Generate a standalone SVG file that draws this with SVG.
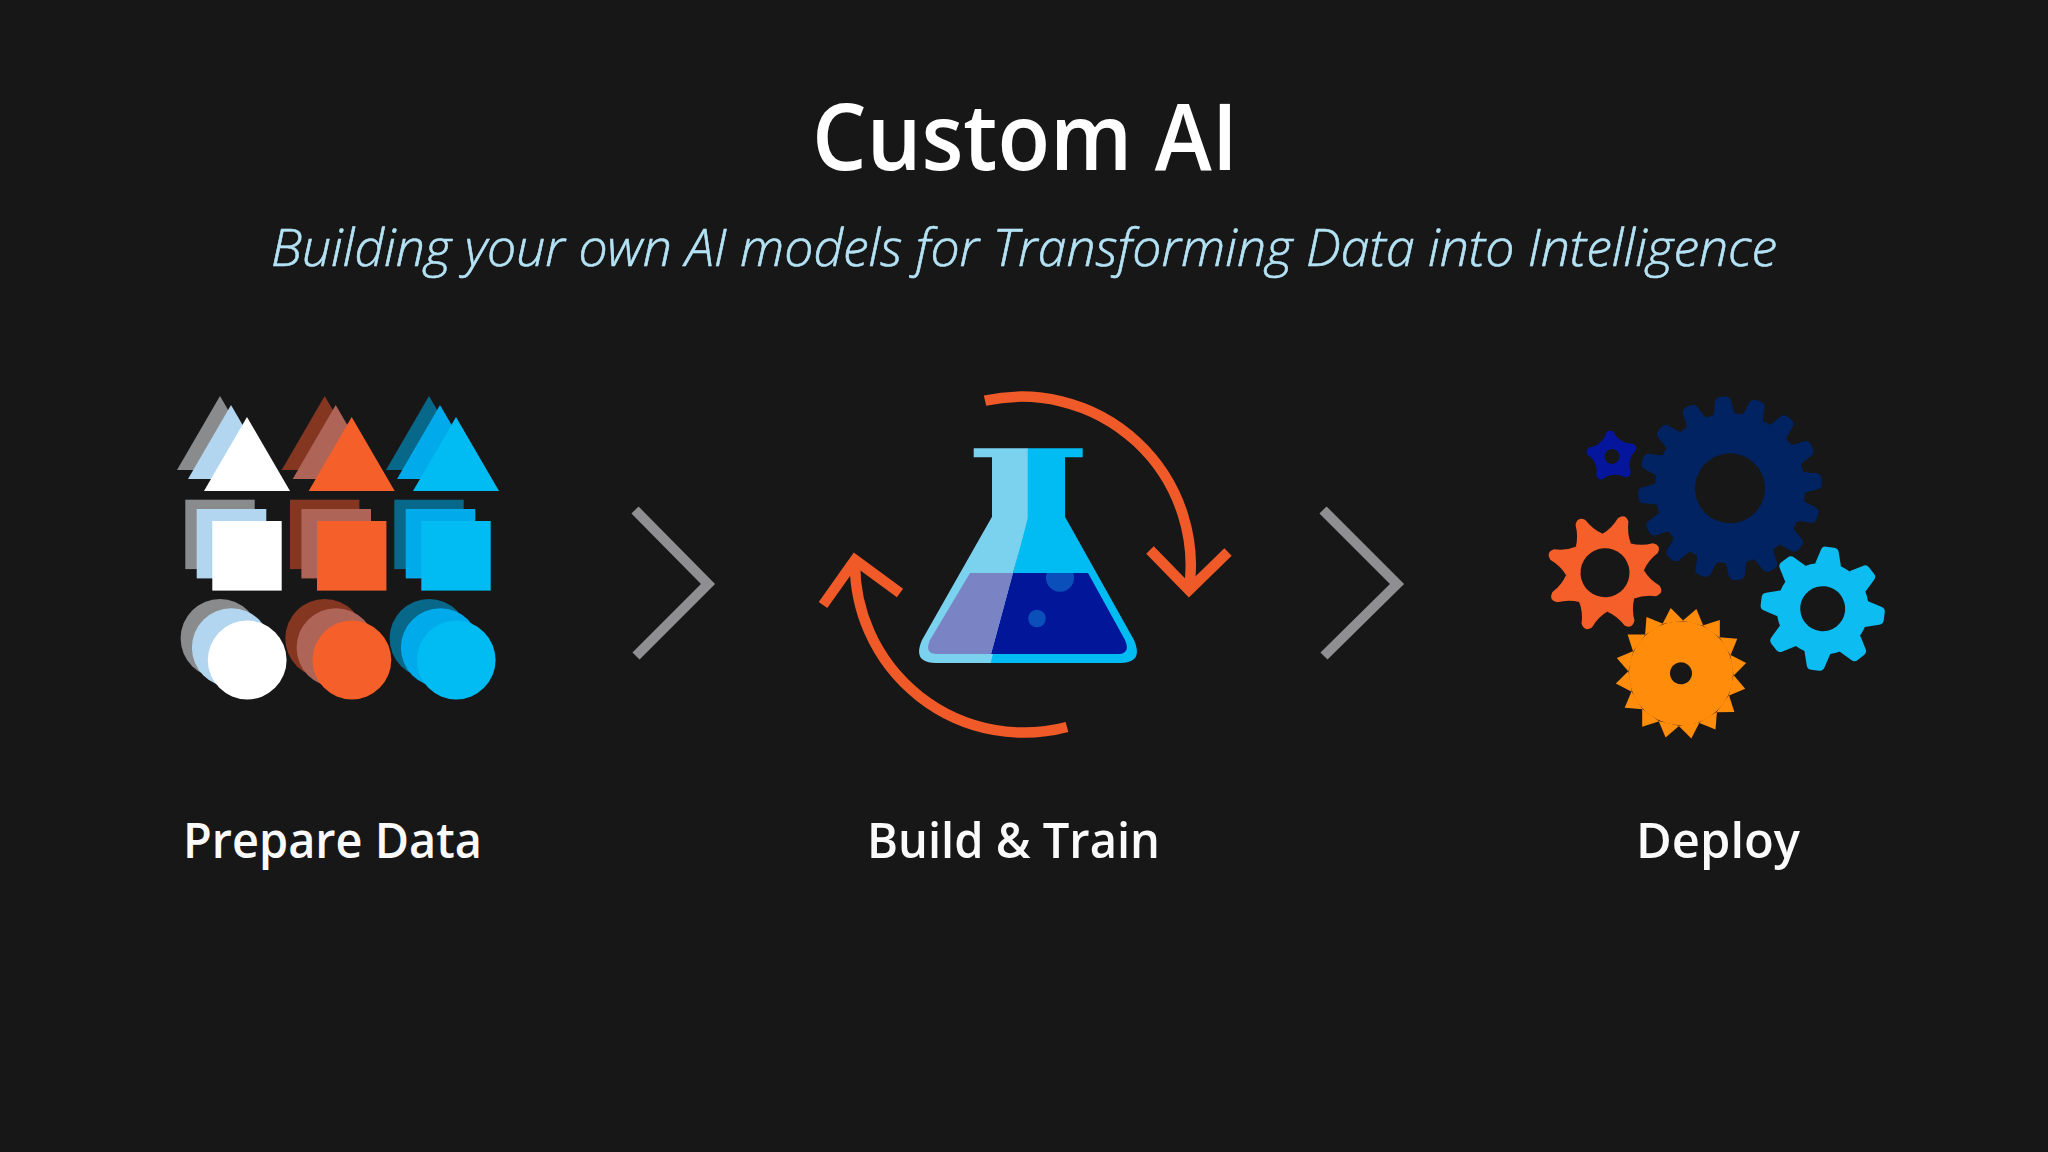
<svg xmlns="http://www.w3.org/2000/svg" width="2048" height="1152" viewBox="0 0 2048 1152">
<style>
.t{font-family:"Open Sans","Noto Sans","Liberation Sans",sans-serif}
.title{font-size:92px;font-weight:600;fill:#fff}
.sub{font-size:51px;font-weight:300;font-style:italic;fill:#b4e3f5;stroke:#b4e3f5;stroke-width:.6}
.lab{font-size:49px;font-weight:600;fill:#fafafa}
.chev{fill:none;stroke:#8f8e90;stroke-width:10}
.cyc{fill:none;stroke:#f05a28;stroke-width:10.5}
.hole{fill:#171718}
</style>
<defs>
<path id="tri" d="M0,0 L43,74 L-43,74Z"/>
<path id="tD" d="M-11.5,-72 Q-9,-78 -8.5,-85 Q-8,-92 -2,-92 L2,-92 Q8,-92 8.5,-85 Q9,-78 11.5,-72Z"/>
<path id="tO" d="M-15,-36 Q-8,-44 -5.5,-56 Q0,-63 5.5,-56 Q8,-44 15,-36Z"/>
<path id="tB" d="M-13,-44 L-9,-58 Q-8,-62 -4,-62 L4,-62 Q8,-62 9,-58 L13,-44Z"/>
<path id="tG" d="M-10.6,-51.5 L0,-66 L10.6,-51.5Z"/>
<path id="tN" d="M-10,-15 Q-5,-20 -4,-24 Q0,-28 4,-24 Q5,-20 10,-15Z"/>
</defs>
<rect width="2048" height="1152" fill="#171718"/>
<g id="heading">
<text class="t title" x="812" y="170" textLength="426" lengthAdjust="spacingAndGlyphs">Custom AI</text>
<text class="t sub" x="271" y="266" textLength="1506" lengthAdjust="spacingAndGlyphs">Building your own AI models for Transforming Data into Intelligence</text>
</g>
<g id="prepare-data">
<g id="col-white">
<use href="#tri" x="220" y="396" fill="#8a8b8d"/><use href="#tri" x="231" y="405" fill="#b3d6f0"/><use href="#tri" x="247" y="417" fill="#fff"/>
<rect x="185.3" y="499.7" width="69.4" height="69.4" fill="#8a8b8d"/><rect x="196.7" y="509" width="69.6" height="69.4" fill="#b3d6f0"/><rect x="212.3" y="521" width="69.4" height="69.6" fill="#fff"/>
<circle cx="220" cy="638.3" r="39.4" fill="#8a8b8d"/><circle cx="231.3" cy="647.7" r="39.4" fill="#b3d6f0"/><circle cx="247.2" cy="660" r="39.4" fill="#fff"/>
</g>
<g id="col-orange" transform="translate(104.7,0)">
<use href="#tri" x="220" y="396" fill="#843621"/><use href="#tri" x="231" y="405" fill="#ae6557"/><use href="#tri" x="247" y="417" fill="#f55f2a"/>
<rect x="185.3" y="499.7" width="69.4" height="69.4" fill="#843621"/><rect x="196.7" y="509" width="69.6" height="69.4" fill="#ae6557"/><rect x="212.3" y="521" width="69.4" height="69.6" fill="#f55f2a"/>
<circle cx="220" cy="638.3" r="39.4" fill="#843621"/><circle cx="231.3" cy="647.7" r="39.4" fill="#ae6557"/><circle cx="247.2" cy="660" r="39.4" fill="#f55f2a"/>
</g>
<g id="col-blue" transform="translate(209,0)">
<use href="#tri" x="220" y="396" fill="#07688a"/><use href="#tri" x="231" y="405" fill="#00aaeb"/><use href="#tri" x="247" y="417" fill="#00bcf2"/>
<rect x="185.3" y="499.7" width="69.4" height="69.4" fill="#07688a"/><rect x="196.7" y="509" width="69.6" height="69.4" fill="#00aaeb"/><rect x="212.3" y="521" width="69.4" height="69.6" fill="#00bcf2"/>
<circle cx="220" cy="638.3" r="39.4" fill="#07688a"/><circle cx="231.3" cy="647.7" r="39.4" fill="#00aaeb"/><circle cx="247.2" cy="660" r="39.4" fill="#00bcf2"/>
</g>
<text class="t lab" x="183" y="858" textLength="299" lengthAdjust="spacingAndGlyphs">Prepare Data</text>
</g>
<g id="connectors">
<path class="chev" d="M635,510 L708,584 L636,656"/>
<path class="chev" d="M1323,510 L1397,584 L1324,656"/>
</g>
<g id="build-train">
<path class="cyc" d="M985,400.7 A169,169 0 0 1 1189,590"/>
<path class="cyc" d="M1150,550 L1189,590 L1228,552"/>
<path class="cyc" d="M1067,727 A169,169 0 0 1 855,560"/>
<path class="cyc" d="M823,605 L855,560 L900,593"/>
<path fill="#00bcf2" d="M1027,448.3 H1082.7 V457.3 H1065 V516.7 L1134,640 Q1144,663 1120,663 H990 L1027,518Z"/>
<path fill="#7bd2ef" d="M973.7,448.3 H1027.7 V518 Q1025,530 1013,573 L990.7,663 H936 Q912,663 922,640 L992,516.7 V457.3 H973.7Z"/>
<path fill="#02169a" d="M1013,573 H1088 L1125,640 Q1131,654 1118,654 H991Z"/>
<path fill="#7a83c4" d="M970,573 H1013 L991,654 H937 Q924,654 930,640Z"/>
<path fill="#0b4fbb" d="M1046.7,573 A14.1,14.1 0 1 0 1073.3,573Z"/>
<circle cx="1037" cy="618.5" r="8.8" fill="#0b4fbb"/>
<text class="t lab" x="867" y="858" textLength="293" lengthAdjust="spacingAndGlyphs">Build &amp; Train</text>
</g>
<g id="deploy">
<g id="gear-dark" fill="#012361" transform="translate(1730,488.3) rotate(85.4)">
<circle r="75"/>
<use href="#tD"/><use href="#tD" transform="rotate(22.5)"/><use href="#tD" transform="rotate(45)"/><use href="#tD" transform="rotate(67.5)"/><use href="#tD" transform="rotate(90)"/><use href="#tD" transform="rotate(112.5)"/><use href="#tD" transform="rotate(135)"/><use href="#tD" transform="rotate(157.5)"/><use href="#tD" transform="rotate(180)"/><use href="#tD" transform="rotate(202.5)"/><use href="#tD" transform="rotate(225)"/><use href="#tD" transform="rotate(247.5)"/><use href="#tD" transform="rotate(270)"/><use href="#tD" transform="rotate(292.5)"/><use href="#tD" transform="rotate(315)"/><use href="#tD" transform="rotate(337.5)"/>
<circle class="hole" r="35"/>
</g>
<g id="gear-navy" fill="#06169c" transform="translate(1612,456.5) rotate(-5)">
<circle r="18.5"/>
<use href="#tN"/><use href="#tN" transform="rotate(72)"/><use href="#tN" transform="rotate(144)"/><use href="#tN" transform="rotate(216)"/><use href="#tN" transform="rotate(288)"/>
<circle class="hole" r="7.5"/>
</g>
<g id="gear-orange" fill="#f55f2a" transform="translate(1605,572.7) rotate(19)">
<circle r="39"/>
<use href="#tO"/><use href="#tO" transform="rotate(45)"/><use href="#tO" transform="rotate(90)"/><use href="#tO" transform="rotate(135)"/><use href="#tO" transform="rotate(180)"/><use href="#tO" transform="rotate(225)"/><use href="#tO" transform="rotate(270)"/><use href="#tO" transform="rotate(315)"/>
<circle class="hole" r="24.5"/>
</g>
<g id="gear-blue" fill="#0dbdf2" transform="translate(1822.7,608.7) rotate(7)">
<circle r="46"/>
<use href="#tB"/><use href="#tB" transform="rotate(45)"/><use href="#tB" transform="rotate(90)"/><use href="#tB" transform="rotate(135)"/><use href="#tB" transform="rotate(180)"/><use href="#tB" transform="rotate(225)"/><use href="#tB" transform="rotate(270)"/><use href="#tB" transform="rotate(315)"/>
<circle class="hole" r="22.5"/>
</g>
<g id="gear-gold" fill="#ff8c0a" transform="translate(1681,673.3) rotate(81)">
<circle r="52"/>
<use href="#tG"/><use href="#tG" transform="rotate(22.5)"/><use href="#tG" transform="rotate(45)"/><use href="#tG" transform="rotate(67.5)"/><use href="#tG" transform="rotate(90)"/><use href="#tG" transform="rotate(112.5)"/><use href="#tG" transform="rotate(135)"/><use href="#tG" transform="rotate(157.5)"/><use href="#tG" transform="rotate(180)"/><use href="#tG" transform="rotate(202.5)"/><use href="#tG" transform="rotate(225)"/><use href="#tG" transform="rotate(247.5)"/><use href="#tG" transform="rotate(270)"/><use href="#tG" transform="rotate(292.5)"/><use href="#tG" transform="rotate(315)"/><use href="#tG" transform="rotate(337.5)"/>
<circle class="hole" r="11"/>
</g>
<text class="t lab" x="1636" y="858" textLength="164" lengthAdjust="spacingAndGlyphs">Deploy</text>
</g>
</svg>
